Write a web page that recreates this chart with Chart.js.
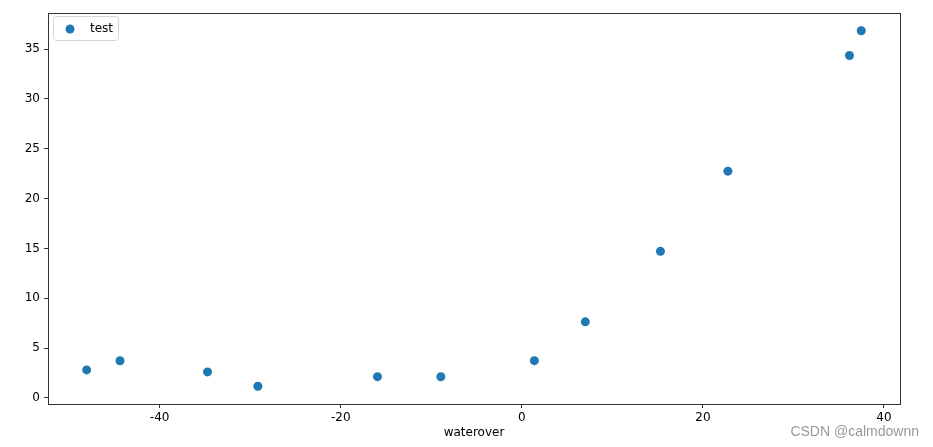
<!DOCTYPE html>
<html>
<head>
<meta charset="utf-8">
<script src="https://cdn.jsdelivr.net/npm/chart.js@4.4.0/dist/chart.umd.min.js"></script>
<style>
  html, body { margin: 0; padding: 0; background: #fff; }
  #wrap { position: relative; width: 933px; height: 447px; }
  #mark { position: absolute; right: 14px; top: 423px; font: 14px "Liberation Sans", Arial, sans-serif; color: #999; }
</style>
</head>
<body>
<div id="wrap">
  <canvas id="chart" width="933" height="447"></canvas>
  <div id="mark">CSDN @calmdownn</div>
</div>
<script>
// training data (waterover vs. outflow)
var xValues = [-15.94, -29.15, 36.19, 37.49, -48.06, -8.94, 15.31, -34.71, 1.39, -44.38, 7.01, 22.76];
var yValues = [2.13, 1.17, 34.36, 36.84, 2.81, 2.12, 14.71, 2.61, 3.74, 3.73, 7.63, 22.75];
var xTicks = [-40, -20, 0, 20, 40];
var yTicks = [0, 5, 10, 15, 20, 25, 30, 35];
var seriesLabel = 'test';
var xLabel = 'waterover';

var blue = '#1f77b4';
var font = '"DejaVu Sans", sans-serif';

var points = [];
for (var i = 0; i < xValues.length; i++) {
	points.push({x: xValues[i], y: yValues[i]});
}

var framePlugin = {
	id: 'frame',
	afterDraw: function(chart) {
		var ctx = chart.ctx, a = chart.chartArea;
		ctx.save();
		ctx.strokeStyle = '#333';
		ctx.lineWidth = 1;
		ctx.strokeRect(Math.round(a.left) + 0.5, Math.round(a.top) + 0.5, Math.round(a.right - a.left), Math.round(a.bottom - a.top));
		// legend box, matplotlib style
		var lx = a.left + 5, ly = a.top + 3;
		ctx.fillStyle = 'rgba(255,255,255,0.8)';
		ctx.strokeStyle = '#d6d6d6';
		ctx.beginPath();
		ctx.roundRect(lx + 0.5, ly + 0.5, 65, 24, 3);
		ctx.fill();
		ctx.stroke();
		ctx.fillStyle = blue;
		ctx.beginPath();
		ctx.arc(lx + 17, ly + 13, 4.5, 0, Math.PI * 2);
		ctx.fill();
		ctx.fillStyle = '#000';
		ctx.font = '12px ' + font;
		ctx.textBaseline = 'middle';
		ctx.fillText(chart.data.datasets[0].label, lx + 37, ly + 13);
		ctx.restore();
	}
};

var ctx = document.getElementById('chart');
var config = {
	type: 'scatter',
	data: {
		datasets: [{
			label: seriesLabel,
			data: points,
			backgroundColor: blue,
			borderColor: blue,
			borderWidth: 0,
			pointRadius: 4.5,
			pointHoverRadius: 4.5
		}]
	},
	options: {
		responsive: false,
		animation: false,
		layout: { padding: { left: 0, right: 33, top: 13, bottom: 7 } },
		plugins: { legend: { display: false }, tooltip: { enabled: false } },
		scales: {
			x: {
				type: 'linear',
				min: -52.33,
				max: 41.77,
				afterBuildTicks: function(s) { s.ticks = xTicks.map(function(v) { return {value: v}; }); },
				afterFit: function(s) { s.height = 36; },
				grid: { drawOnChartArea: false, tickLength: 4, color: '#333' },
				border: { color: '#333' },
				ticks: { color: '#000', font: { family: font, size: 12 }, padding: 3, maxRotation: 0 },
				title: { display: true, text: xLabel, color: '#000', font: { family: font, size: 12 }, padding: { top: 2, bottom: 0 } }
			},
			y: {
				type: 'linear',
				min: -0.61,
				max: 38.62,
				afterBuildTicks: function(s) { s.ticks = yTicks.map(function(v) { return {value: v}; }); },
				afterFit: function(s) { s.width = 48; },
				grid: { drawOnChartArea: false, tickLength: 4, color: '#333' },
				border: { color: '#333' },
				ticks: { color: '#000', font: { family: font, size: 12 }, padding: 4 }
			}
		}
	},
	plugins: [framePlugin]
};
var myChart = new Chart(ctx, config);
</script>
</body>
</html>
